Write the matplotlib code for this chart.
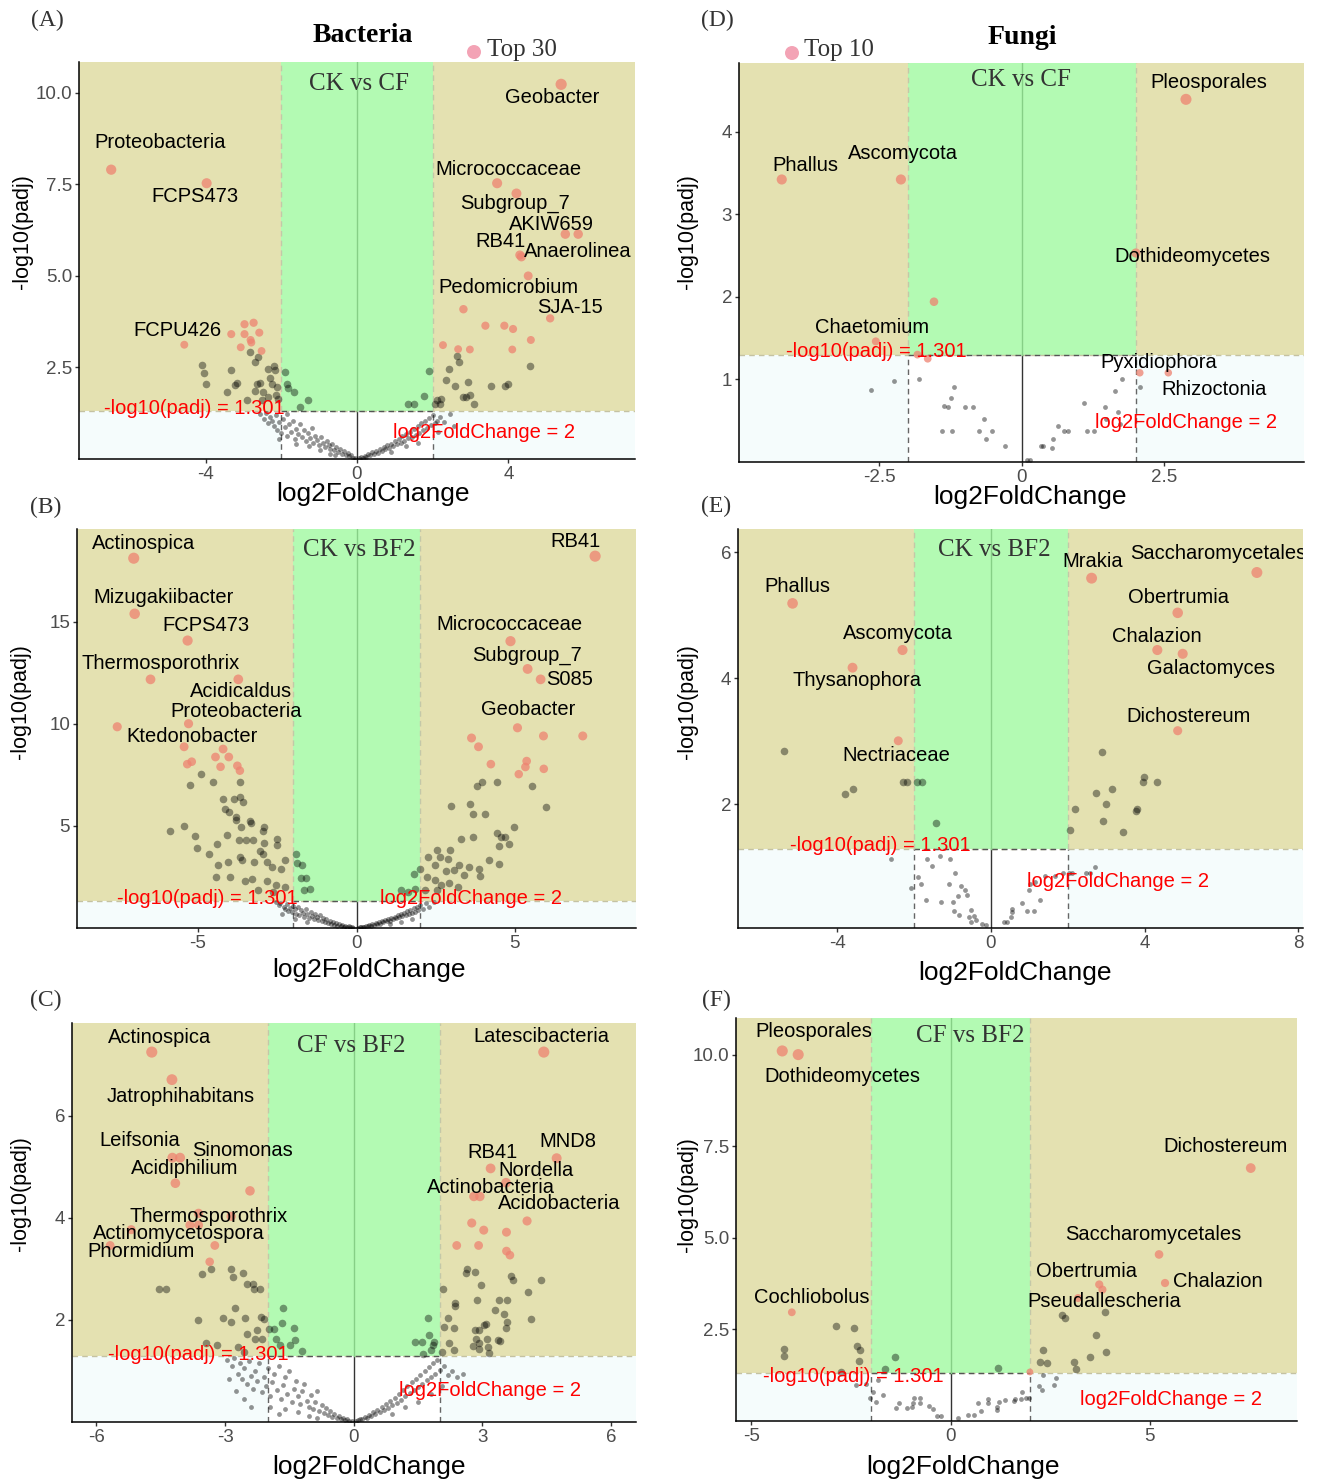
import matplotlib
matplotlib.use('Agg')
import matplotlib.pyplot as plt
from matplotlib.patches import Rectangle, Ellipse

# ---------------- data ----------------
# (A) Bacteria CK vs CF
A_top_x = [-6.49, -3.97, -4.56, 5.39, 3.70, 4.21, 5.50, 5.84, 4.30, 4.34, 4.52, 5.10,
           -2.97, -2.73, -3.32, -2.97, -2.58, -2.81, -2.79, -3.07, -2.52,
           2.81, 3.39, 3.89, 4.12, 4.59, 2.27, 2.67, 2.98, 4.10]
A_top_y = [7.90, 7.53, 3.12, 10.23, 7.53, 7.25, 6.14, 6.14, 5.57, 5.52, 5.00, 3.84,
           3.68, 3.72, 3.41, 3.41, 3.45, 3.25, 3.18, 3.05, 2.95,
           4.09, 3.64, 3.64, 3.55, 3.25, 3.11, 3.00, 2.99, 2.99]
A_gray_x = [-4.10, -4.04, -3.99, -3.32, -3.44, -3.16, -3.22, -2.90, -2.82, -2.69, -2.61, -2.63, -2.70,
            -2.47, -2.34, -2.30, -2.19, -2.16, -2.24, -2.13, -2.08, -2.52, -2.34, -2.56, -2.10,
            -1.90, -1.86, -1.82, -1.67, -1.30, -1.50, 1.90, 1.76, 1.50, 1.34,
            2.11, 2.23, 2.34, 2.43, 2.59, 2.64, 2.70, 2.79, 2.88, 2.98, 2.92, 3.08, 3.53, 3.92,
            3.99, 4.56, 2.20, 2.07,
            -2.55, -2.45, -2.40, -2.35, -2.30, -2.25, -2.20, -2.15, -2.10, -2.05, -2.00, -1.95,
            -1.90, -1.85, -1.80, -1.75, -1.70, -1.65, -1.60, -1.55, -1.50, -1.45, -1.40, -1.35,
            -1.30, -1.25, -1.20, -1.15, -1.10, -1.05, -1.00, -0.95, -0.90, -0.85, -0.80, -0.75,
            -0.70, -0.65, -0.60, -0.55, -0.50, -0.45, -0.40, -0.35, -0.30, -0.25, -0.20, -0.15,
            -0.10, -0.05, -1.62, -1.28, -0.98, -2.05, -1.85, -0.72, -0.58,
            0.05, 0.10, 0.15, 0.20, 0.25, 0.30, 0.35, 0.40, 0.45, 0.50, 0.55, 0.60, 0.65, 0.70,
            0.75, 0.80, 0.85, 0.90, 0.95, 1.00, 1.05, 1.10, 1.15, 1.20, 1.25, 1.30, 1.35, 1.40,
            1.45, 1.50, 1.55, 1.60, 1.65, 1.70, 1.75, 1.80, 1.85, 1.90, 1.95, 2.00, 2.05, 2.10,
            2.20, 2.30, 2.45, 2.55, 1.30, 1.60, 0.90, 2.15]
A_gray_y = [2.56, 2.35, 2.06, 2.43, 1.84, 2.08, 2.02, 1.61, 2.93, 2.65, 2.79, 2.06, 1.86,
            1.84, 2.47, 2.20, 2.54, 2.43, 2.06, 1.75, 1.65, 1.61, 1.70, 2.08, 1.97,
            2.37, 2.06, 1.95, 1.84, 1.61, 1.41, 2.39, 1.72, 1.49, 1.49,
            1.61, 1.64, 2.15, 2.46, 2.00, 2.81, 2.65, 1.70, 1.70, 1.74, 2.10, 1.50, 2.00, 2.00,
            2.04, 2.55, 1.49, 1.49,
            1.22, 1.10, 1.25, 0.98, 1.15, 1.05, 0.90, 1.20, 0.80, 1.00, 0.70, 1.10,
            0.88, 0.62, 0.95, 0.75, 1.05, 0.55, 0.82, 0.68, 0.95, 0.60, 0.78, 0.48,
            0.70, 0.58, 0.85, 0.45, 0.62, 0.52, 0.38, 0.60, 0.45, 0.32, 0.50, 0.38,
            0.28, 0.42, 0.25, 0.33, 0.20, 0.28, 0.15, 0.22, 0.10, 0.16, 0.07, 0.10,
            0.04, 0.02, 0.40, 0.35, 0.25, 0.55, 1.22, 0.15, 0.10,
            0.02, 0.05, 0.04, 0.09, 0.06, 0.13, 0.10, 0.18, 0.14, 0.22, 0.17, 0.28, 0.21, 0.33,
            0.26, 0.38, 0.30, 0.42, 0.35, 0.50, 0.40, 0.55, 0.45, 0.62, 0.50, 0.68, 0.56, 0.75,
            0.60, 0.82, 0.66, 0.90, 0.72, 0.98, 0.80, 1.05, 0.86, 1.12, 0.92, 1.20, 0.98, 1.05,
            1.15, 1.00, 1.22, 0.90, 0.35, 0.45, 0.20, 0.75]
A_labels = {'Proteobacteria': (-5.21, 8.64), 'FCPS473': (-4.29, 7.17), 'FCPU426': (-4.74, 3.51),
            'Geobacter': (5.16, 9.86), 'Micrococcaceae': (4.00, 7.90), 'Subgroup_7': (4.16, 6.98),
            'AKIW659': (5.13, 6.40), 'RB41': (3.79, 5.94), 'Anaerolinea': (5.84, 5.67),
            'Pedomicrobium': (4.00, 4.69), 'SJA-15': (5.63, 4.14)}

# (B) Bacteria CK vs BF2
B_top_x = [-7.03, 7.53, -7.00, -5.33, 4.86, 5.40, 5.81, -6.50, -3.73, -5.30, -7.55, 5.08,
           -5.44, -4.21, -4.45, -4.03, -5.34, -5.20, -4.29, -3.76, -3.68,
           3.63, 3.85, 5.90, 7.14, 4.24, 5.37, 5.33, 5.12, 5.91]
B_top_y = [18.10, 18.20, 15.38, 14.07, 14.04, 12.68, 12.17, 12.17, 12.17, 10.00, 9.85, 9.80,
           8.87, 8.76, 8.37, 8.37, 8.02, 8.14, 7.89, 7.94, 7.70,
           9.30, 8.87, 9.40, 9.40, 8.02, 8.17, 7.88, 7.53, 7.79]
B_gray_x = [-4.92, -5.25, -4.54, -3.68, -4.21, -3.85, -3.67, -3.59, -4.15, -4.01, -3.80, -3.80,
            -3.37, -3.32, -3.64, -2.92, -2.95, -5.87, -5.44, -5.10, -4.39, -5.02, -4.08, -3.71,
            -3.48, -3.28, -2.92, -2.50, -2.50, -4.66, -4.36, -4.07, -3.68, -3.61, -3.06, -2.95,
            -3.22, -2.84, -2.66, -2.38, -2.26, -4.43, -4.00, -3.53, -3.30, -2.82, -2.55, -2.26,
            -3.10, -2.63,
            -1.90, -1.89, -1.73, -1.60, -1.75, -1.46, -1.67,
            2.98, 3.59, 3.80, 3.95, 4.44, 5.54, 5.98, 3.69, 4.05, 4.96, 4.44, 4.57, 4.70, 4.49,
            4.80, 3.30, 3.67, 2.96, 2.55, 2.26, 2.64, 2.90, 3.24, 3.56, 3.88, 4.17, 4.49, 2.48,
            2.84, 3.08, 3.38, 3.89, 2.22, 2.48, 2.66, 2.92, 3.19, 2.15, 2.55,
            1.99, 1.82, 1.42, 1.62, 1.86,
            -2.55, -2.45, -2.40, -2.30, -2.25, -2.20, -2.15, -2.10, -2.05, -2.00, -1.95, -1.90,
            -1.85, -1.80, -1.75, -1.70, -1.65, -1.60, -1.55, -1.50, -1.45, -1.40, -1.35, -1.30,
            -1.25, -1.20, -1.15, -1.10, -1.05, -1.00, -0.95, -0.90, -0.85, -0.80, -0.75, -0.70,
            -0.65, -0.60, -0.55, -0.50, -0.45, -0.40, -0.35, -0.30, -0.25, -0.20, -0.15, -0.10,
            -2.35, -1.95, -1.55,
            0.05, 0.10, 0.15, 0.20, 0.25, 0.30, 0.35, 0.40, 0.45, 0.50, 0.55, 0.60, 0.65, 0.70,
            0.75, 0.80, 0.85, 0.90, 0.95, 1.00, 1.05, 1.10, 1.15, 1.20, 1.25, 1.30, 1.35, 1.40,
            1.45, 1.50, 1.55, 1.60, 1.65, 1.70, 1.75, 1.80, 1.85, 1.90, 1.95, 2.00, 2.10, 2.20,
            2.30, 2.45, 1.40, 1.75, 1.05]
B_gray_y = [7.53, 6.98, 7.16, 7.16, 6.31, 6.31, 6.42, 6.18, 5.83, 5.70, 5.44, 5.31,
            5.25, 5.15, 4.95, 4.92, 4.75, 4.75, 5.00, 4.49, 4.10, 3.92, 4.54, 4.30,
            4.33, 4.30, 4.18, 4.38, 4.05, 3.61, 3.07, 3.24, 3.48, 3.32, 3.76, 3.61,
            3.24, 3.24, 2.99, 2.91, 3.35, 2.50, 2.50, 2.30, 2.42, 2.30, 2.12, 2.01,
            1.85, 1.76,
            3.64, 3.19, 3.07, 2.47, 2.45, 1.90, 1.85,
            5.96, 6.08, 6.94, 7.16, 7.16, 6.94, 5.90, 5.57, 5.57, 4.95, 4.66, 4.43, 4.43, 4.02,
            4.13, 4.38, 4.44, 3.84, 3.81, 3.48, 3.48, 3.40, 3.07, 2.99, 2.91, 3.32, 3.12, 3.07,
            2.79, 2.83, 2.58, 2.55, 2.50, 2.37, 2.12, 2.21, 2.01, 1.85, 1.85,
            2.91, 2.66, 1.88, 1.76, 1.90,
            1.25, 1.12, 1.20, 1.05, 0.95, 1.18, 0.85, 1.00, 0.78, 1.10, 0.92, 0.70,
            1.05, 0.62, 0.88, 0.75, 0.55, 0.95, 0.68, 0.50, 0.80, 0.60, 0.45, 0.70,
            0.52, 0.40, 0.62, 0.35, 0.48, 0.30, 0.42, 0.25, 0.36, 0.20, 0.30, 0.16,
            0.24, 0.12, 0.18, 0.09, 0.14, 0.06, 0.10, 0.05, 0.08, 0.03, 0.05, 0.02,
            0.70, 0.45, 0.30,
            0.02, 0.04, 0.03, 0.07, 0.05, 0.10, 0.08, 0.14, 0.11, 0.18, 0.14, 0.23, 0.18, 0.28,
            0.22, 0.33, 0.27, 0.38, 0.32, 0.44, 0.36, 0.50, 0.42, 0.56, 0.47, 0.62, 0.52, 0.68,
            0.58, 0.75, 0.62, 0.82, 0.68, 0.90, 0.74, 0.98, 0.80, 1.05, 0.86, 1.12, 0.95, 1.20,
            1.05, 1.25, 0.30, 0.45, 0.20]
B_labels = {'Actinospica': (-6.73, 18.81), 'Mizugakiibacter': (-6.09, 16.16),
            'FCPS473': (-4.74, 14.79), 'Thermosporothrix': (-6.19, 12.97),
            'Acidicaldus': (-3.66, 11.60), 'Proteobacteria': (-3.79, 10.62),
            'Ktedonobacter': (-5.18, 9.35), 'RB41': (6.92, 18.90),
            'Micrococcaceae': (4.83, 14.88), 'Subgroup_7': (5.37, 13.36),
            'S085': (6.73, 12.18), 'Geobacter': (5.43, 10.71)}

# (C) Bacteria CF vs BF2
C_top_x = [-4.71, 4.43, -4.24, 4.73, -4.23, -4.05, 3.19, 3.55, -4.16, -2.42, 2.80, 2.94,
           4.04, -3.62, -2.86, -3.82, -3.62, -5.19, -5.68, -3.24, -3.36,
           2.75, 3.03, 3.56, 2.40, 2.91, 3.56, 3.64]
C_top_y = [7.25, 7.25, 6.71, 5.17, 5.18, 5.18, 4.97, 4.69, 4.68, 4.53, 4.42, 4.42,
           3.94, 4.09, 4.03, 3.86, 3.86, 3.77, 3.46, 3.46, 3.14,
           3.90, 3.76, 3.72, 3.46, 3.46, 3.35, 3.27]
C_gray_x = [-3.53, -3.32, -2.86, -2.82, -2.58, -2.48, -2.33, -2.19, -2.36, -4.55, -4.37, -2.77,
            -3.63, -3.05, -2.87, -2.54, -2.17, -2.09, -3.45, -3.18, -2.71, -2.49, -2.25, -2.31,
            -2.14, -2.56,
            -1.66, -1.98, -1.86, -1.67, -1.39, -1.82, -1.37, -1.73, -1.48, -1.21,
            1.72, 1.75, 1.43, 1.59, 1.87, 1.85, 1.61, 1.80,
            2.07, 2.36, 2.37, 2.20, 2.10, 2.34, 2.23, 2.05, 2.64, 2.61, 2.82, 2.97, 2.87, 3.39,
            3.57, 3.30, 3.51, 3.58, 3.55, 3.66, 3.72, 4.37, 4.07, 4.13, 2.83, 2.93, 3.03, 3.08,
            2.85, 3.11, 3.36, 3.42, 2.77, 2.93, 3.13, 3.16, 2.93, 2.34,
            -2.95, -2.85, -2.80, -2.70, -2.65, -2.60, -2.55, -2.50, -2.45, -2.40, -2.35, -2.30,
            -2.25, -2.20, -2.15, -2.10, -2.05, -2.00, -1.95, -1.90, -1.85, -1.80, -1.75, -1.70,
            -1.65, -1.60, -1.55, -1.50, -1.45, -1.40, -1.35, -1.30, -1.25, -1.20, -1.15, -1.10,
            -1.05, -1.00, -0.95, -0.90, -0.85, -0.80, -0.75, -0.70, -0.65, -0.60, -0.55, -0.50,
            -0.45, -0.40, -0.35, -0.30, -0.25, -0.20, -0.15, -0.10, -0.05, -2.75, -2.55, -1.95,
            -1.60, -1.30, -1.05, -0.85, -2.90, -2.40, -1.75,
            0.05, 0.10, 0.15, 0.20, 0.25, 0.30, 0.35, 0.40, 0.45, 0.50, 0.55, 0.60, 0.65, 0.70,
            0.75, 0.80, 0.85, 0.90, 0.95, 1.00, 1.05, 1.10, 1.15, 1.20, 1.25, 1.30, 1.35, 1.40,
            1.45, 1.50, 1.55, 1.60, 1.65, 1.70, 1.75, 1.80, 1.85, 1.90, 1.95, 2.00, 2.10, 2.20,
            2.30, 2.40, 2.55, 1.20, 1.50, 0.90, 1.80, 2.05]
C_gray_y = [2.90, 2.99, 2.99, 2.84, 2.93, 2.71, 2.61, 2.61, 2.71, 2.61, 2.61, 2.24,
            2.00, 2.03, 1.96, 2.03, 2.05, 2.01, 1.55, 1.50, 1.47, 1.73, 1.80, 1.63,
            1.63, 1.37,
            2.24, 1.83, 1.83, 1.95, 1.84, 1.63, 1.61, 1.50, 1.50, 1.39,
            2.03, 1.70, 1.57, 1.57, 1.57, 1.50, 1.34, 1.41,
            2.61, 2.33, 2.27, 2.04, 1.86, 1.84, 1.54, 1.37, 2.99, 2.93, 2.94, 2.69, 2.40, 2.40,
            2.40, 2.19, 2.11, 1.96, 1.84, 2.86, 2.79, 2.78, 2.54, 2.01, 1.80, 1.80, 1.90, 1.93,
            1.63, 1.62, 1.60, 1.58, 1.49, 1.54, 1.47, 1.35, 1.44, 1.41,
            1.22, 1.10, 1.25, 0.95, 1.15, 0.85, 1.05, 0.75, 1.20, 0.90, 0.65, 1.00,
            0.80, 1.15, 0.58, 0.88, 0.70, 1.05, 0.50, 0.78, 0.95, 0.62, 1.10, 0.45,
            0.72, 0.88, 0.55, 1.00, 0.40, 0.65, 0.80, 0.50, 0.35, 0.60, 0.75, 0.42,
            0.30, 0.52, 0.25, 0.40, 0.60, 0.22, 0.33, 0.18, 0.28, 0.14, 0.22, 0.10,
            0.16, 0.08, 0.12, 0.05, 0.08, 0.03, 0.05, 0.02, 0.01, 0.60, 0.45, 0.30,
            0.25, 0.20, 0.12, 0.08, 0.85, 0.30, 0.15,
            0.02, 0.04, 0.06, 0.05, 0.10, 0.08, 0.14, 0.11, 0.19, 0.15, 0.24, 0.19, 0.30, 0.24,
            0.36, 0.28, 0.42, 0.33, 0.48, 0.38, 0.55, 0.44, 0.62, 0.50, 0.70, 0.56, 0.78, 0.62,
            0.85, 0.68, 0.92, 0.75, 1.00, 0.82, 1.08, 0.88, 1.15, 0.95, 1.22, 1.02, 1.10, 0.92,
            1.00, 0.88, 0.95, 0.30, 0.40, 0.15, 0.55, 0.70]
C_labels = {'Actinospica': (-4.52, 7.54), 'Jatrophihabitans': (-4.03, 6.38),
            'Leifsonia': (-4.98, 5.52), 'Sinomonas': (-2.59, 5.33), 'Acidiphilium': (-3.94, 4.97),
            'Thermosporothrix': (-3.38, 4.03), 'Actinomycetospora': (-4.08, 3.70),
            'Phormidium': (-4.96, 3.35), 'Latescibacteria': (4.38, 7.56), 'MND8': (4.98, 5.50),
            'RB41': (3.24, 5.29), 'Nordella': (4.26, 4.93), 'Actinobacteria': (3.19, 4.60),
            'Acidobacteria': (4.80, 4.28)}

# (D) Fungi CK vs CF
D_top_x = [2.88, -4.21, -2.12, 2.00, -1.54, -2.56, -1.83, -1.65, 2.07, 2.57]
D_top_y = [4.39, 3.42, 3.42, 2.53, 1.94, 1.46, 1.30, 1.25, 1.08, 1.08]
D_gray_x = [-2.65, -2.24, -1.81, -1.19, -1.25, -1.36, -1.30, -1.00, -0.86, -0.67, -1.40, -1.23,
            -0.75, -0.52, -0.63, -0.30, 0.10, 0.15, 0.34, 0.38, 0.53, 0.55, 0.63, 0.74, 0.81,
            1.09, 1.15, 1.26, 1.46, 1.47, 1.63, 1.69, 1.72, 1.76, 2.08]
D_gray_y = [0.87, 0.98, 1.00, 0.91, 0.78, 0.68, 0.66, 0.66, 0.66, 0.52, 0.37, 0.37,
            0.37, 0.37, 0.28, 0.19, 0.03, 0.03, 0.19, 0.19, 0.17, 0.28, 0.44, 0.37, 0.37,
            0.71, 0.37, 0.37, 0.66, 0.52, 0.86, 0.60, 0.46, 1.01, 0.91]
D_labels = {'Pleosporales': (3.28, 4.59), 'Phallus': (-3.79, 3.59), 'Ascomycota': (-2.09, 3.73),
            'Dothideomycetes': (2.99, 2.49), 'Chaetomium': (-2.63, 1.63),
            'Pyxidiophora': (2.41, 1.21), 'Rhizoctonia': (3.37, 0.88)}

# (E) Fungi CK vs BF2
E_top_x = [-5.16, 2.62, 6.92, 4.86, -2.30, 4.33, 4.99, -3.60, 4.86, -2.41]
E_top_y = [5.19, 5.59, 5.68, 5.04, 4.45, 4.45, 4.39, 4.17, 3.17, 3.01]
E_gray_x = [-5.39, -3.80, -3.60, -2.30, -2.19, -1.93, -1.80, -1.42, 2.88, 3.98, 3.95, 4.33,
            3.15, 2.73, 3.00, 3.80, 3.77, 2.18, 2.91, 2.07, 3.44,
            -2.60, -1.65, -1.33, -1.06, -1.53, -0.94, -1.90, -1.81, -2.09, -1.09, -0.77, -0.68,
            -0.86, -0.61, -1.70, -1.31, -0.98, -0.95, -0.84, -0.58, -0.51, -0.44, -0.51, -0.38,
            -0.24, -0.13, 0.34, 0.43, 0.54, 0.54, 0.51, 0.82, 0.95, 1.11, 1.00, 1.27, 1.41,
            1.68, 1.88, 2.03, 2.12, 2.48, 2.58, 2.70, 1.02, 1.14]
E_gray_y = [2.85, 2.16, 2.24, 2.35, 2.35, 2.35, 2.35, 1.71, 2.83, 2.43, 2.35, 2.35,
            2.24, 2.18, 2.00, 1.92, 1.89, 1.92, 1.74, 1.60, 1.57,
            1.13, 1.13, 1.18, 1.13, 1.02, 0.92, 0.85, 0.74, 0.67, 0.74, 0.71, 0.64,
            0.54, 0.56, 0.49, 0.46, 0.46, 0.31, 0.24, 0.21, 0.32, 0.23, 0.13, 0.17,
            0.11, 0.08, 0.13, 0.13, 0.34, 0.29, 0.22, 0.43, 0.31, 0.31, 0.65, 0.49, 0.87,
            0.87, 0.91, 0.91, 0.91, 0.91, 0.91, 1.01, 0.74, 0.77]
E_labels = {'Phallus': (-5.03, 5.45), 'Ascomycota': (-2.42, 4.72), 'Thysanophora': (-3.49, 3.96),
            'Nectriaceae': (-2.47, 2.78), 'Mrakia': (2.66, 5.85), 'Saccharomycetales': (5.91, 5.98),
            'Obertrumia': (4.87, 5.28), 'Chalazion': (4.32, 4.66), 'Galactomyces': (5.73, 4.15),
            'Dichostereum': (5.13, 3.40)}

# (F) Fungi CF vs BF2
F_top_x = [-4.22, -3.82, 7.53, 5.23, 5.38, 3.73, 3.81, 3.20, -3.98, 1.99]
F_top_y = [10.10, 10.00, 6.90, 4.54, 3.76, 3.72, 3.58, 3.35, 2.96, 1.33]
F_gray_x = [-2.87, -2.42, -4.17, -4.18, -2.35, -2.28, -2.29, -1.39, -1.65, 1.18, 2.80, 2.86,
            3.88, 3.65, 2.32, 3.90, 3.51, 2.24, 2.41, 3.09, 3.15,
            -2.74, -2.36, -2.11, -1.95, -2.02, -1.86, -1.70, -1.82, -1.37, -1.29, -1.10, -0.97,
            -0.91, -0.76, -0.94, -0.76, -0.55, -0.44, -0.33, -0.23, 0.18, 0.43, 0.60, 0.77,
            0.70, 0.95, 0.95, 1.16, 1.17, 1.22, 1.36, 1.59, 1.62, 1.79, 1.78, 1.90, 1.97, 2.23,
            2.29, 2.32, 2.60, 2.65]
F_gray_y = [2.58, 2.52, 1.97, 1.77, 2.03, 1.94, 1.62, 1.73, 1.40, 1.44, 2.88, 2.81,
            2.96, 2.35, 1.94, 1.87, 1.74, 1.60, 1.57, 1.60, 1.40,
            1.33, 0.97, 0.99, 0.78, 0.63, 0.51, 0.69, 1.10, 0.35, 0.48, 0.35, 0.37,
            0.62, 0.63, 0.48, 0.48, 0.40, 0.33, 0.13, 0.13, 0.08, 0.16, 0.15, 0.26,
            0.48, 0.60, 0.49, 0.37, 0.30, 0.51, 0.57, 0.53, 0.58, 0.78, 0.60, 0.62, 0.62, 0.94,
            0.85, 1.24, 0.97, 1.17]
F_labels = {'Pleosporales': (-3.42, 10.62), 'Dothideomycetes': (-2.72, 9.41),
            'Dichostereum': (6.89, 7.50), 'Saccharomycetales': (5.08, 5.09),
            'Obertrumia': (3.40, 4.08), 'Chalazion': (6.71, 3.81),
            'Pseudallescheria': (3.86, 3.26), 'Cochliobolus': (-3.49, 3.37)}

# ---------------- style ----------------
W, H = 1320, 1480
OLIVE = '#e4e1b1'
GREEN = '#b3fab3'
LOW = '#f5fcfc'
RED = '#ee8270'
SANS = 'Liberation Sans'
SERIF = 'Liberation Serif'
THR_Y = 1.301
THR_X = 2

fig = plt.figure(figsize=(W / 100, H / 100), dpi=100)


def ftext(x, y, s, **kw):
    fig.text(x / W, 1 - y / H, s, ha='center', va='center', **kw)


def volcano(box, xlim, ylim, xticks, yticks, ylabfmt, top_x, top_y, gray_x, gray_y,
            labels, title, title_pos, thr_pos, fc_pos):
    l, t, r, b = box
    ax = fig.add_axes([l / W, 1 - b / H, (r - l) / W, (b - t) / H])
    x0, x1 = xlim
    y0, y1 = ylim
    ax.set_xlim(x0, x1)
    ax.set_ylim(y0, y1)

    # background regions
    ax.add_patch(Rectangle((x0, THR_Y), -THR_X - x0, y1 - THR_Y, fc=OLIVE, ec='none', zorder=0))
    ax.add_patch(Rectangle((THR_X, THR_Y), x1 - THR_X, y1 - THR_Y, fc=OLIVE, ec='none', zorder=0))
    ax.add_patch(Rectangle((-THR_X, THR_Y), 2 * THR_X, y1 - THR_Y, fc=GREEN, ec='none', zorder=0))
    ax.add_patch(Rectangle((x0, y0), -THR_X - x0, THR_Y - y0, fc=LOW, ec='none', zorder=0))
    ax.add_patch(Rectangle((THR_X, y0), x1 - THR_X, THR_Y - y0, fc=LOW, ec='none', zorder=0))

    # threshold lines
    dash = (0, (4, 3))
    ax.plot([x0, x1], [THR_Y, THR_Y], ls=dash, color='#c4c2a2', lw=1, zorder=1)
    ax.plot([-THR_X, THR_X], [THR_Y, THR_Y], ls=dash, color='#555555', lw=1, zorder=1)
    for v in (-THR_X, THR_X):
        ax.plot([v, v], [y0, THR_Y], ls=dash, color='#666666', lw=1, zorder=1)
        ax.plot([v, v], [THR_Y, y1], ls=dash, color='#c4c8a8', lw=1, zorder=1)
    ax.plot([0, 0], [y0, THR_Y], color='#333333', lw=1, zorder=1)
    ax.plot([0, 0], [THR_Y, y1], color='#86cf86', lw=1, zorder=1)

    # points
    up_x = [x for x, y in zip(gray_x, gray_y) if y > THR_Y]
    up_y = [y for y in gray_y if y > THR_Y]
    lo_x = [x for x, y in zip(gray_x, gray_y) if y <= THR_Y]
    lo_y = [y for y in gray_y if y <= THR_Y]
    ax.scatter(lo_x, lo_y, s=12, color='black', alpha=0.42, lw=0, zorder=2)
    ax.scatter(up_x, up_y, s=30, color='black', alpha=0.4, lw=0, zorder=2)
    sizes = [18 + 50 * y / y1 for y in top_y]
    ax.scatter(top_x, top_y, s=sizes, color=RED, alpha=0.75, lw=0, zorder=3)

    for name, (lx, ly) in labels.items():
        ax.text(lx, ly, name, ha='center', va='center', fontsize=14.5, family=SANS,
                color='black', zorder=5, clip_on=True)

    ax.text(*title_pos, title, ha='center', va='center', fontsize=18, family=SERIF,
            color='#333333', zorder=5)
    ax.text(*thr_pos, '-log10(padj) = 1.301', ha='center', va='center', fontsize=14.5,
            family=SANS, color='red', zorder=5)
    ax.text(*fc_pos, 'log2FoldChange = 2', ha='center', va='center', fontsize=14.5,
            family=SANS, color='red', zorder=5)

    for s in ('top', 'right'):
        ax.spines[s].set_visible(False)
    for s in ('left', 'bottom'):
        ax.spines[s].set_color('black')
        ax.spines[s].set_linewidth(1.1)
        ax.spines[s].set_zorder(6)
    ax.set_xticks(xticks)
    ax.set_xticklabels([('%g' % v) for v in xticks])
    ax.set_yticks(yticks)
    ax.set_yticklabels([ylabfmt % v for v in yticks])
    ax.tick_params(length=3, width=1, color='#333333', labelcolor='#4d4d4d',
                   labelsize=13.5, pad=2)
    for lab in ax.get_xticklabels() + ax.get_yticklabels():
        lab.set_family(SANS)
    return ax


volcano((79, 62, 635, 459), (-7.34, 7.34), (0, 10.84), [-4, 0, 4], [2.5, 5.0, 7.5, 10.0], '%.1f',
        A_top_x, A_top_y, A_gray_x, A_gray_y, A_labels,
        'CK vs CF', (0.04, 10.25), (-4.29, 1.39), (3.36, 0.71))
volcano((77, 529, 636, 928), (-8.82, 8.82), (0, 19.53), [-5, 0, 5], [5, 10, 15], '%d',
        B_top_x, B_top_y, B_gray_x, B_gray_y, B_labels,
        'CK vs BF2', (0.1, 18.5), (-4.70, 1.46), (3.60, 1.46))
volcano((72, 1023, 636, 1422), (-6.57, 6.58), (0, 7.82), [-6, -3, 0, 3, 6], [2, 4, 6], '%d',
        C_top_x, C_top_y, C_gray_x, C_gray_y, C_labels,
        'CF vs BF2', (-0.07, 7.37), (-3.63, 1.33), (3.17, 0.62))
volcano((739, 63, 1304, 462), (-4.96, 4.95), (0, 4.83), [-2.5, 0, 2.5], [1, 2, 3, 4], '%d',
        D_top_x, D_top_y, D_gray_x, D_gray_y, D_labels,
        'CK vs CF', (-0.02, 4.63), (-2.56, 1.34), (2.88, 0.48))
volcano((738, 529, 1303, 928), (-6.58, 8.12), (0.04, 6.37), [-4, 0, 4, 8], [2, 4, 6], '%d',
        E_top_x, E_top_y, E_gray_x, E_gray_y, E_labels,
        'CK vs BF2', (0.1, 6.04), (-2.89, 1.35), (3.31, 0.78))
volcano((736, 1018, 1297, 1421), (-5.38, 8.69), (-0.01, 11.0), [-5, 0, 5], [2.5, 5.0, 7.5, 10.0], '%.1f',
        F_top_x, F_top_y, F_gray_x, F_gray_y, F_labels,
        'CF vs BF2', (0.5, 10.5), (-2.44, 1.21), (5.54, 0.58))

# ---------------- figure-level text ----------------
for letter, (x, y) in {'(A)': (47, 20), '(B)': (46, 507), '(C)': (46, 1000),
                       '(D)': (717, 20), '(E)': (716, 506), '(F)': (716, 1000)}.items():
    ftext(x, y, letter, fontsize=17, family=SERIF, color='#333333')

ftext(363, 36, 'Bacteria', fontsize=20, family=SERIF, fontweight='bold')
ftext(1022, 38, 'Fungi', fontsize=20, family=SERIF, fontweight='bold')

for (cx, cy), (tx, ty), txt in [((474, 52), (522, 50), 'Top 30'), ((792, 53), (839, 50), 'Top 10')]:
    fig.add_artist(Ellipse((cx / W, 1 - cy / H), 14 / W, 14 / H, transform=fig.transFigure,
                           fc='#f3a3b5', ec='none'))
    ftext(tx, ty, txt, fontsize=18, family=SERIF, color='#333333')

for x, y in [(373, 494), (369, 970), (369, 1467), (1030, 497), (1015, 973), (963, 1467)]:
    ftext(x, y, 'log2FoldChange', fontsize=19, family=SANS)
for x, y in [(22, 232), (21, 702), (21, 1194), (687, 232), (687, 702), (687, 1195)]:
    ftext(x, y, '-log10(padj)', fontsize=15.5, family=SANS, rotation=90)

fig.savefig('out.png', dpi=100)
